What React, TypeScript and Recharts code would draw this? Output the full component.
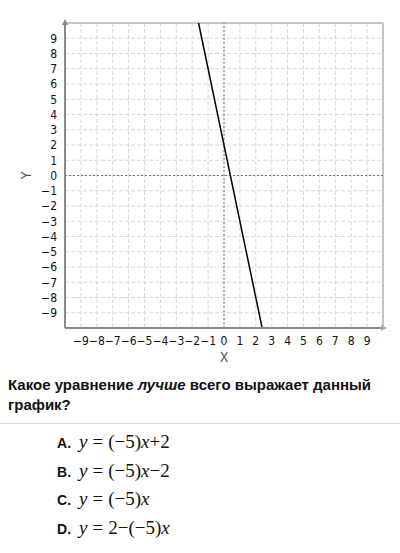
import { LineChart, Line, XAxis, YAxis, CartesianGrid, ReferenceLine, ReferenceDot } from 'recharts';

const xTicks = [-9, -8, -7, -6, -5, -4, -3, -2, -1, 0, 1, 2, 3, 4, 5, 6, 7, 8, 9];
const yTicks = [-9, -8, -7, -6, -5, -4, -3, -2, -1, 0, 1, 2, 3, 4, 5, 6, 7, 8, 9];
const lineX = [-1.6, 2.4];
const lineY = [10, -10];

const question = ['Какое уравнение ', 'лучше', ' всего выражает данный график?'];
const optionLetters = ['A', 'B', 'C', 'D'];
const optionEquations = ['y=(−5)x+2', 'y=(−5)x−2', 'y=(−5)x', 'y=2−(−5)x'];

const data = lineX.map((x, i) => ({ x, y: lineY[i] }));
const fmt = (v: number) => String(v).replace('-', '−');
const tickFont = '"Liberation Sans Narrow", "DejaVu Sans Condensed", "Roboto Condensed", "Liberation Sans", sans-serif';

function UpArrow(props: any) {
  const { cx, cy } = props;
  return <path d={`M${cx - 3},${cy + 2} L${cx},${cy - 4} L${cx + 3},${cy + 2} Z`} fill="#888" />;
}

function RightArrow(props: any) {
  const { cx, cy } = props;
  return <path d={`M${cx - 2},${cy - 3} L${cx + 4},${cy} L${cx - 2},${cy + 3} Z`} fill="#aaa" />;
}

function Equation({ text }: { text: string }) {
  return (
    <span style={{ fontFamily: '"Liberation Serif", "DejaVu Serif", serif', fontSize: 19 }}>
      {text.split('').map((ch, i) => {
        if (ch === 'x' || ch === 'y') return <i key={i}>{ch}</i>;
        if (ch === '=') return <span key={i} style={{ margin: '0 5px' }}>=</span>;
        return <span key={i}>{ch}</span>;
      })}
    </span>
  );
}

export default function App() {
  return (
    <div style={{ position: 'absolute', left: 0, top: 0, width: 400, height: 553, background: '#fff' }}>
      <LineChart width={400} height={370} data={data} margin={{ top: 23, right: 17, bottom: 0, left: 0 }}>
        <CartesianGrid stroke="#d9d9d9" strokeDasharray="4 2" />
        <XAxis type="number" dataKey="x" domain={[-10, 10]} ticks={xTicks} allowDataOverflow interval={0}
               tickFormatter={fmt} tickLine={false} tickSize={0} tickMargin={8} height={42}
               axisLine={{ stroke: '#888', strokeWidth: 2 }}
               tick={{ fill: '#111', fontSize: 12, fontFamily: tickFont }}
               label={{ value: 'X', position: 'center', dy: 8, fill: '#555', fontSize: 14, fontFamily: tickFont }} />
        <YAxis type="number" dataKey="y" domain={[-10, 10]} ticks={yTicks} allowDataOverflow interval={0}
               tickFormatter={fmt} tickLine={false} tickSize={0} tickMargin={8} width={65}
               axisLine={{ stroke: '#888', strokeWidth: 2 }}
               tick={{ fill: '#111', fontSize: 12, fontFamily: tickFont }}
               label={{ value: 'Y', position: 'center', angle: -90, dx: -6, fill: '#555', fontSize: 14, fontFamily: tickFont }} />
        <ReferenceLine y={10} stroke="#c4c4c4" strokeWidth={2} />
        <ReferenceLine x={10} stroke="#c4c4c4" strokeWidth={2} />
        <ReferenceLine x={0} stroke="#777" strokeDasharray="2 2" />
        <ReferenceLine y={0} stroke="#777" strokeDasharray="2 2" />
        <Line type="linear" dataKey="y" stroke="#000" strokeWidth={1.5} dot={false} isAnimationActive={false} />
        <ReferenceDot x={-10} y={10} shape={UpArrow} ifOverflow="visible" />
        <ReferenceDot x={10} y={-10} shape={RightArrow} ifOverflow="visible" />
      </LineChart>
      <div style={{ position: 'absolute', left: 8, top: 375, width: 384, fontFamily: '"Liberation Sans", Arial, sans-serif',
                    fontWeight: 'bold', fontSize: 15, lineHeight: '20px', color: '#111' }}>
        {question[0]}<i>{question[1]}</i>{question[2]}
      </div>
      <div style={{ position: 'absolute', left: 0, top: 423, width: 400, height: 1, background: '#ddd' }} />
      {optionLetters.map((l, i) => (
        <div key={l} style={{ position: 'absolute', left: 57, top: 429 + i * 28.5, height: 26, lineHeight: '26px',
                              whiteSpace: 'nowrap', color: '#111' }}>
          <span style={{ fontFamily: '"Liberation Sans", Arial, sans-serif', fontWeight: 'bold', fontSize: 14, marginRight: 8 }}>{l}.</span>
          <Equation text={optionEquations[i]} />
        </div>
      ))}
    </div>
  );
}
